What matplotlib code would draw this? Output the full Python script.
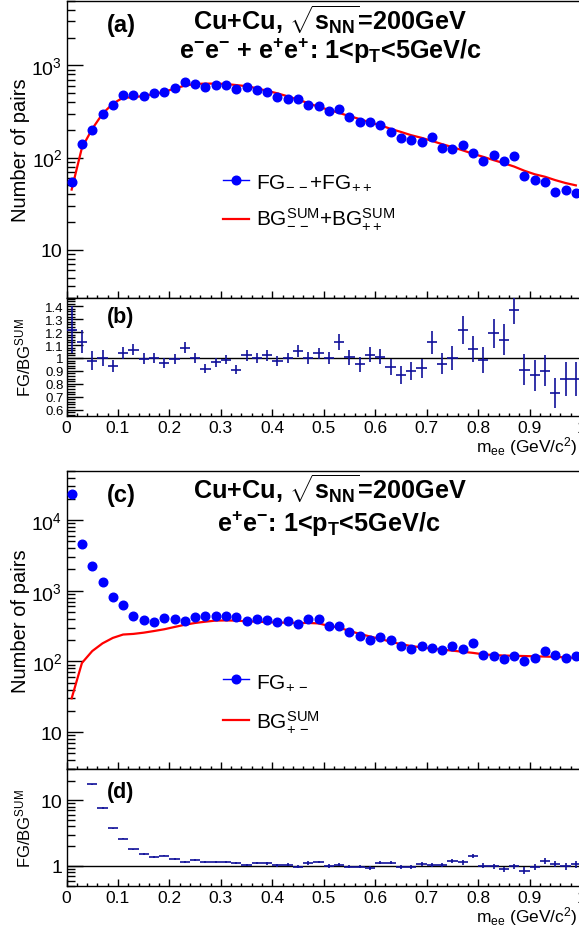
import numpy as np
import matplotlib
matplotlib.use("Agg")
import matplotlib.pyplot as plt
from matplotlib.ticker import FixedLocator, LogLocator, FuncFormatter, NullFormatter, MultipleLocator
from matplotlib.lines import Line2D

plt.rcParams['font.family'] = ['Liberation Sans', 'DejaVu Sans']
plt.rcParams['mathtext.fontset'] = 'custom'
plt.rcParams['mathtext.rm'] = 'Liberation Sans'
plt.rcParams['mathtext.bf'] = 'Liberation Sans:bold'
plt.rcParams['mathtext.it'] = 'Liberation Sans:italic'
plt.rcParams['mathtext.sf'] = 'Liberation Sans'

# ---------------- data ----------------
mee = np.round(np.arange(0.01, 1.0, 0.02), 2)   # bin centres (GeV/c^2)

fg_like = [54, 142, 201, 299, 375, 473, 481, 466, 506, 514,
           569, 661, 628, 583, 618, 618, 550, 583, 536, 514,
           454, 435, 428, 368, 362, 317, 333, 275, 243, 243,
           224, 190, 163, 156, 148, 166, 128, 123, 138, 113,
           93, 106, 93, 104, 63, 57, 54, 42, 45, 41]
bg_like = [45, 128, 205, 299, 385, 447, 450, 468, 490, 516,
           562, 603, 630, 635, 635, 630, 612, 596, 565, 530,
           498, 462, 425, 390, 355, 330, 305, 282, 262, 240,
           225, 205, 190, 175, 164, 152, 140, 130, 120, 110,
           102, 94, 87, 80, 72, 66, 62, 57, 53, 50]
ratio_like = [1.22, 1.125, 0.98, 1.00, 0.94, 1.04, 1.065, 0.995, 1.00, 0.96,
              0.99, 1.08, 1.00, 0.915, 0.965, 0.985, 0.91, 1.02, 1.00, 1.02,
              0.975, 1.00, 1.055, 1.00, 1.035, 1.00, 1.125, 1.005, 0.95, 1.025,
              1.01, 0.93, 0.865, 0.90, 0.92, 1.12, 0.955, 1.00, 1.215, 1.07,
              0.985, 1.19, 1.14, 1.37, 0.91, 0.865, 0.90, 0.73, 0.835, 0.835]
ratio_like_err = [0.18, 0.09, 0.07, 0.06, 0.045, 0.045, 0.045, 0.04, 0.04, 0.04,
                  0.04, 0.04, 0.04, 0.035, 0.035, 0.035, 0.035, 0.04, 0.04, 0.04,
                  0.04, 0.04, 0.045, 0.045, 0.045, 0.045, 0.06, 0.06, 0.06, 0.06,
                  0.06, 0.065, 0.07, 0.07, 0.075, 0.09, 0.08, 0.09, 0.11, 0.1,
                  0.1, 0.11, 0.12, 0.11, 0.12, 0.12, 0.12, 0.115, 0.13, 0.13]

fg_unlike = [23300, 4570, 2230, 1310, 805, 620, 433, 384, 364, 410,
             393, 376, 428, 433, 443, 438, 428, 376, 402, 389,
             356, 372, 334, 397, 397, 320, 313, 257, 231, 200,
             223, 200, 163, 150, 167, 156, 146, 163, 150, 180,
             124, 118, 107, 118, 102, 110, 142, 123, 110, 118]
bg_unlike = [30, 95, 140, 180, 215, 240, 245, 255, 269, 285,
             307, 330, 350, 365, 378, 380, 378, 370, 365, 360,
             356, 352, 350, 350, 345, 318, 300, 270, 245, 225,
             208, 190, 175, 165, 158, 152, 147, 142, 137, 132,
             126, 123, 121, 120, 119, 118, 117, 116, 114, 112]
ratio_unlike = [np.nan, np.nan, 17.5, 7.64, 3.75, 2.61, 1.79, 1.51, 1.355, 1.437,
                1.28, 1.14, 1.22, 1.164, 1.15, 1.137, 1.124, 1.036, 1.11, 1.098,
                1.024, 1.048, 0.966, 1.11, 1.15, 1.00, 1.048, 0.977, 0.977, 0.932,
                1.124, 1.124, 0.977, 0.977, 1.073, 1.048, 1.048, 1.206, 1.137, 1.42,
                1.012, 0.988, 0.89, 0.988, 0.849, 0.954, 1.206, 1.085, 1.00, 1.06]
ratio_unlike_err = [np.nan, np.nan, 0.3, 0.15, 0.08, 0.06, 0.05, 0.04, 0.04, 0.04,
                    0.04, 0.04, 0.04, 0.04, 0.04, 0.04, 0.04, 0.04, 0.05, 0.05,
                    0.05, 0.05, 0.05, 0.06, 0.06, 0.06, 0.06, 0.06, 0.06, 0.06,
                    0.07, 0.07, 0.07, 0.07, 0.08, 0.08, 0.08, 0.09, 0.09, 0.1,
                    0.09, 0.09, 0.09, 0.1, 0.1, 0.1, 0.12, 0.12, 0.12, 0.12]

half_bin = 0.01
xticks = [0, 0.1, 0.2, 0.3, 0.4, 0.5, 0.6, 0.7, 0.8, 0.9, 1.0]
ratio_ticks_b = [0.6, 0.7, 0.8, 0.9, 1.0, 1.1, 1.2, 1.3, 1.4]

# ---------------- layout ----------------
W, H = 579, 929
fig = plt.figure(figsize=(W / 100, H / 100), dpi=100)

L, R = 66.5, 581.0
def add_ax(top, bottom):
    return fig.add_axes([L / W, 1 - bottom / H, (R - L) / W, (bottom - top) / H])

axA = add_ax(2, 299)
axB = add_ax(299, 416.7)
axC = add_ax(471.7, 770)
axD = add_ax(770, 886.7)

BLUE = '#0000ff'
RED = '#ff0000'
NAVY = '#10109a'

def style(ax):
    for s in ax.spines.values():
        s.set_linewidth(1.0)
        s.set_color('black')
    ax.spines['right'].set_visible(False)
    ax.set_xlim(0, 1)
    ax.xaxis.set_major_locator(FixedLocator(xticks))
    ax.xaxis.set_minor_locator(MultipleLocator(0.02))
    ax.tick_params(axis='x', which='major', direction='in', length=5, width=1, top=False)
    ax.tick_params(axis='x', which='minor', direction='in', length=2.5, width=1, top=False)
    ax.tick_params(axis='y', which='major', direction='in', length=11.5, width=1, right=False)
    ax.tick_params(axis='y', which='minor', direction='in', length=5.8, width=1, right=False)

def logfmt(v, pos):
    e = int(round(np.log10(v)))
    if e == 0:
        return '1'
    if e == 1:
        return '10'
    return r'$\mathregular{10^{%d}}$' % e

def gfmt(v, pos):
    return '%g' % round(v, 3)

for ax in (axA, axB, axC, axD):
    style(ax)

# ---- panel (a)
axA.set_yscale('log')
axA.set_ylim(3, 5000)
axA.plot(mee, bg_like, color=RED, lw=1.6, zorder=2)
axA.plot(mee, fg_like, 'o', color=BLUE, ms=6.2, zorder=3)
# ---- panel (c)
axC.set_yscale('log')
axC.set_ylim(3, 50000)
axC.plot(mee, bg_unlike, color=RED, lw=1.6, zorder=2)
axC.plot(mee, fg_unlike, 'o', color=BLUE, ms=6.2, zorder=3)

for ax in (axA, axC):
    ax.yaxis.set_major_locator(LogLocator(base=10, numticks=10))
    ax.yaxis.set_minor_locator(LogLocator(base=10, subs=np.arange(2, 10), numticks=20))
    ax.yaxis.set_major_formatter(FuncFormatter(logfmt))
    ax.yaxis.set_minor_formatter(NullFormatter())
    ax.tick_params(axis='y', labelsize=14, pad=3)
    ax.tick_params(axis='x', labelbottom=False)
    ax.set_ylabel('Number of pairs', fontsize=14.5, va='center')
    ax.yaxis.set_label_coords((21 - L) / (R - L), 0.5)

# ---- panel (b)
axB.set_ylim(0.553, 1.464)
axB.axhline(1, color='black', lw=1.0, zorder=1)
axB.errorbar(mee, ratio_like, yerr=ratio_like_err, xerr=half_bin, fmt='none',
             ecolor=NAVY, elinewidth=1.2, capsize=0, zorder=3)
axB.yaxis.set_major_locator(FixedLocator(ratio_ticks_b))
axB.yaxis.set_minor_locator(MultipleLocator(0.02))
axB.yaxis.set_major_formatter(FuncFormatter(gfmt))
axB.tick_params(axis='y', labelsize=9.5, pad=2)

# ---- panel (d)
axD.set_yscale('log')
axD.set_ylim(0.5, 30)
axD.axhline(1, color='black', lw=1.0, zorder=1)
axD.errorbar(mee, ratio_unlike, yerr=ratio_unlike_err, xerr=half_bin, fmt='none',
             ecolor=NAVY, elinewidth=1.2, capsize=0, zorder=3)
axD.yaxis.set_major_locator(LogLocator(base=10, numticks=10))
axD.yaxis.set_minor_locator(LogLocator(base=10, subs=np.arange(2, 10), numticks=20))
axD.yaxis.set_major_formatter(FuncFormatter(logfmt))
axD.yaxis.set_minor_formatter(NullFormatter())
axD.tick_params(axis='y', labelsize=14, pad=3)

for ax in (axB, axD):
    ax.xaxis.set_major_formatter(FuncFormatter(gfmt))
    ax.tick_params(axis='x', labelsize=12.5, pad=3)
    ax.set_ylabel(r'FG/BG$^{\mathregular{SUM}}$', fontsize=12, va='center')
    ax.yaxis.set_label_coords((23 - L) / (R - L), 0.5)
    ax.set_xlabel(r'm$_{\mathregular{ee}}$ (GeV/c$^{\mathregular{2}}$)', fontsize=12.5,
                  ha='right', va='center')

axB.xaxis.set_label_coords((578 - L) / (R - L), (416.7 - 447) / (416.7 - 299))
axD.xaxis.set_label_coords((578 - L) / (R - L), (886.7 - 917) / (886.7 - 770))

# ---------------- text ----------------
def fx(px):
    return px / W
def fy(py):
    return 1 - py / H

title1 = r'Cu+Cu, $\mathbf{\sqrt{s_{NN}}}$=200GeV'
title2_like = r'$\mathbf{e^{-}e^{-}}$ + $\mathbf{e^{+}e^{+}}$: 1<$\mathbf{p_{T}}$<5GeV/c'
title2_unlike = r'$\mathbf{e^{+}e^{-}}$: 1<$\mathbf{p_{T}}$<5GeV/c'

TS = 18.2
fig.text(fx(330), fy(30.5), title1, fontsize=TS, fontweight='bold', ha='center', va='baseline')
fig.text(fx(331), fy(59.5), title2_like, fontsize=TS, fontweight='bold', ha='center', va='baseline')
fig.text(fx(330), fy(500), title1, fontsize=TS, fontweight='bold', ha='center', va='baseline')
fig.text(fx(329), fy(531.7), title2_unlike, fontsize=TS, fontweight='bold', ha='center', va='baseline')

for lab, yb, fs in (('(a)', 32.3, 17), ('(b)', 323.3, 15.5), ('(c)', 501.7, 17), ('(d)', 798.3, 15.5)):
    fig.text(fx(107), fy(yb), lab, fontsize=fs, fontweight='bold', ha='left', va='baseline')

# legends
def legend_entry(yc, ybase, label, kind):
    if kind == 'fg':
        fig.add_artist(Line2D([fx(223), fx(249)], [fy(yc), fy(yc)], color=BLUE, lw=1.0))
        fig.add_artist(Line2D([fx(236)], [fy(yc)], marker='o', color=BLUE, ms=6.2, lw=0))
    else:
        fig.add_artist(Line2D([fx(223), fx(249)], [fy(yc), fy(yc)], color=RED, lw=1.6))
    fig.text(fx(256.5), fy(ybase), label, fontsize=15, ha='left', va='baseline')

legend_entry(180.7, 188.3, r'FG$_{-\,-}$+FG$_{++}$', 'fg')
legend_entry(220, 225, r'BG$^{\mathregular{SUM}}_{-\,-}$+BG$^{\mathregular{SUM}}_{++}$', 'bg')
legend_entry(680, 688.3, r'FG$_{+\,-}$', 'fg')
legend_entry(720.7, 728.3, r'BG$^{\mathregular{SUM}}_{+\,-}$', 'bg')

fig.savefig('out.png', dpi=100)
